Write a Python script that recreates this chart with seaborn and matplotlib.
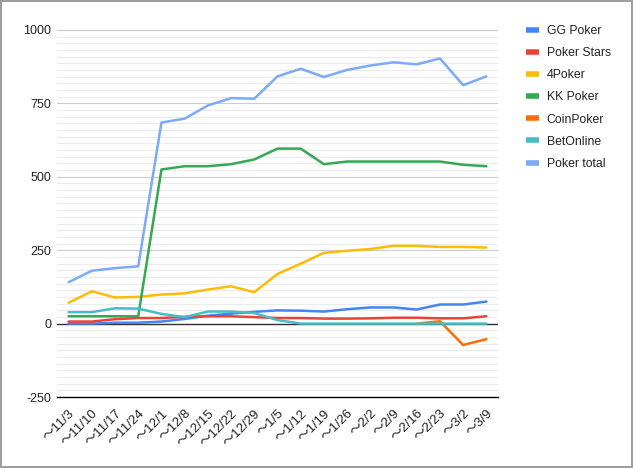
import numpy as np
import pandas as pd
import seaborn as sns
import matplotlib.pyplot as plt

# Weekly values
weeks = ['〜11/3', '〜11/10', '〜11/17', '〜11/24', '〜12/1', '〜12/8', '〜12/15',
         '〜12/22', '〜12/29', '〜1/5', '〜1/12', '〜1/19', '〜1/26', '〜2/2',
         '〜2/9', '〜2/16', '〜2/23', '〜3/2', '〜3/9']

gg_poker = [0, 0, 3, 3, 7, 16, 27, 34, 40, 45, 44, 41, 49, 55, 55, 48, 65, 65, 75]
poker_stars = [7, 7, 15, 19, 19, 23, 25, 25, 22, 19, 19, 17, 17, 18, 20, 20, 18, 18, 25]
four_poker = [71, 110, 89, 91, 99, 103, 116, 127, 107, 169, 204, 241, 248, 254, 265, 265, 261, 261, 259]
kk_poker = [25, 25, 25, 25, 525, 536, 536, 543, 559, 596, 596, 543, 552, 552, 552, 552, 552, 541, 536]
# CoinPoker has no entries before 2/16
coin_poker = [None] * 15 + [0, 8, -73, -53]
bet_online = [39, 39, 52, 51, 33, 22, 41, 41, 36, 12, 0, 0, 0, 0, 0, 0, 0, 0, 0]
poker_total = [141, 180, 189, 195, 685, 698, 743, 768, 766, 842, 868, 840, 864, 879, 890, 883, 903, 812, 842]

series_names = ['GG Poker', 'Poker Stars', '4Poker', 'KK Poker', 'CoinPoker', 'BetOnline', 'Poker total']
series_values = [gg_poker, poker_stars, four_poker, kk_poker, coin_poker, bet_online, poker_total]
colors = ['#4285f4', '#ea4335', '#fbbc04', '#34a853', '#ff6d01', '#46bdc6', '#7baaf7']

# long-form table for seaborn
rows = []
for name, vals in zip(series_names, series_values):
    for i, v in enumerate(vals):
        rows.append({'week': i, 'series': name, 'value': np.nan if v is None else v})
df = pd.DataFrame(rows)

sns.set_style('white')
plt.rcParams['font.family'] = ['Liberation Sans', 'Noto Sans CJK JP', 'DejaVu Sans']

fig = plt.figure(figsize=(6.33, 4.68), dpi=100)
ax = fig.add_axes([57/633, 71/468, 441/633, 367/468])

sns.lineplot(data=df, x='week', y='value', hue='series', hue_order=series_names,
             palette=colors, linewidth=1.8, ax=ax, legend=True)

# gridlines: majors every 250, 10 minor lines in between
majors = [-250, 0, 250, 500, 750, 1000]
minors = []
for a, b in zip(majors[:-1], majors[1:]):
    minors += list(np.linspace(a, b, 12)[1:-1])
for m in minors:
    ax.axhline(m, color='#ebebeb', lw=0.8, zorder=0)
for m in majors[1:]:
    ax.axhline(m, color='#cccccc', lw=0.8, zorder=0)
ax.axhline(0, color='#333333', lw=1.0, zorder=1)

ax.set_ylim(-250, 1000)
ax.set_xlim(-0.5, len(weeks) - 0.5)
ax.set_yticks(majors)
ax.set_yticklabels([str(m) for m in majors], fontsize=9, color='#222222')
ax.set_xticks(range(len(weeks)))
ax.set_xticklabels(weeks, rotation=45, ha='right', rotation_mode='anchor', fontsize=9.5, color='#222222')
ax.tick_params(axis='y', length=0, pad=4)
ax.tick_params(axis='x', direction='inout', length=9, width=1, color='black', pad=3)
ax.set_xlabel('')
ax.set_ylabel('')

for s in ['top', 'right', 'left']:
    ax.spines[s].set_visible(False)
ax.spines['bottom'].set_color('black')
ax.spines['bottom'].set_linewidth(1.0)

leg = ax.legend(loc='upper left', bbox_to_anchor=(526/633, 1 - 25/468),
                bbox_transform=fig.transFigure, frameon=False, fontsize=8.8,
                handlelength=1.05, handletextpad=0.65, labelspacing=0.83,
                borderpad=0, borderaxespad=0)
for line in leg.get_lines():
    line.set_linewidth(4)
    line.set_solid_capstyle('butt')
for t in leg.get_texts():
    t.set_color('#222222')

fig.patch.set_edgecolor('#9e9e9e')
fig.patch.set_linewidth(1.5)

plt.savefig('out.png', dpi=100, edgecolor=fig.get_edgecolor())
